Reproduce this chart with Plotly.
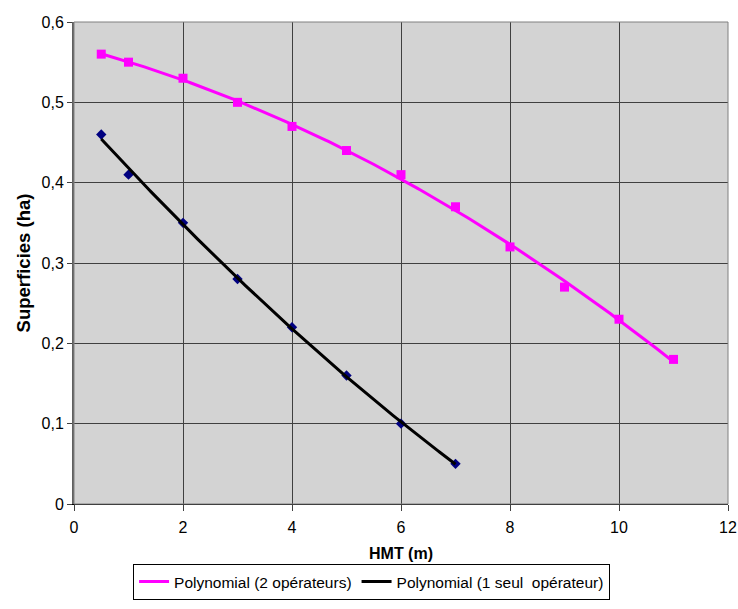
import numpy as np
import plotly.graph_objects as go

# Measured surfaces (ha) against manometric head HMT (m)
hmt_two = [0.5, 1, 2, 3, 4, 5, 6, 7, 8, 9, 10, 11]
surf_two = [0.56, 0.55, 0.53, 0.50, 0.47, 0.44, 0.41, 0.37, 0.32, 0.27, 0.23, 0.18]

hmt_one = [0.5, 1, 2, 3, 4, 5, 6, 7]
surf_one = [0.46, 0.41, 0.35, 0.28, 0.22, 0.16, 0.10, 0.05]

x_ticks = [0, 2, 4, 6, 8, 10, 12]
y_ticks = [0, 0.1, 0.2, 0.3, 0.4, 0.5, 0.6]
y_tick_text = ["0", "0,1", "0,2", "0,3", "0,4", "0,5", "0,6"]

name_two = "Polynomial (2 opérateurs)"
name_one = "Polynomial (1 seul  opérateur)"

FONT = "Liberation Sans, Arial, sans-serif"


def poly_trend(x, y, deg=2, n=200):
    coefs = np.polyfit(x, y, deg)
    xs = np.linspace(min(x), max(x), n)
    return xs, np.polyval(coefs, xs)


fig = go.Figure()

# raw observations
fig.add_trace(go.Scatter(
    x=hmt_two, y=surf_two, mode="markers", showlegend=False,
    marker=dict(symbol="square", size=9, color="#FF00FF"),
))
fig.add_trace(go.Scatter(
    x=hmt_one, y=surf_one, mode="markers", showlegend=False,
    marker=dict(symbol="diamond", size=8, color="#000080"),
))

# second-order polynomial trend lines
tx, ty = poly_trend(hmt_two, surf_two)
fig.add_trace(go.Scatter(
    x=tx, y=ty, mode="lines", name=name_two,
    line=dict(color="#FF00FF", width=3),
))
tx, ty = poly_trend(hmt_one, surf_one)
fig.add_trace(go.Scatter(
    x=tx, y=ty, mode="lines", name=name_one,
    line=dict(color="#000000", width=3),
))

fig.update_layout(
    width=738, height=609,
    margin=dict(l=74, r=10, t=22, b=104),
    paper_bgcolor="#FFFFFF",
    plot_bgcolor="#D3D3D3",
    font=dict(family=FONT, size=16, color="#000000"),
    showlegend=True,
    legend=dict(
        orientation="h", x=0.455, xanchor="center", y=-0.122, yanchor="top",
        bordercolor="#000000", borderwidth=1, bgcolor="#FFFFFF",
        font=dict(family=FONT, size=15.5, color="#000000"),
        itemwidth=30, tracegroupgap=0,
    ),
)

fig.update_xaxes(
    range=[0, 12], tickvals=x_ticks, ticktext=[str(v) for v in x_ticks],
    tickfont=dict(family=FONT, size=16),
    showgrid=True, gridcolor="#404040", gridwidth=1,
    showline=True, linecolor="#000000", linewidth=1,
    ticks="outside", ticklen=6, tickcolor="#404040", ticklabelstandoff=3,
    zeroline=False, automargin=False,
    title=dict(text="<b>HMT (m)</b>", standoff=12,
               font=dict(family=FONT, size=16)),
)
fig.update_yaxes(
    range=[0, 0.6], tickvals=y_ticks, ticktext=y_tick_text,
    tickfont=dict(family=FONT, size=16),
    showgrid=True, gridcolor="#404040", gridwidth=1,
    showline=True, linecolor="#606060", linewidth=2,
    ticks="outside", ticklen=5, tickcolor="#404040",
    zeroline=False, automargin=False,
    title=dict(text="<b>Superficies (ha)</b>", standoff=6,
               font=dict(family=FONT, size=18.5)),
)

# thin frame around the plot area
fig.add_shape(type="rect", xref="paper", yref="paper", x0=0, y0=0, x1=1, y1=1,
              line=dict(color="#808080", width=1), layer="above")

fig.write_html("out.html")
